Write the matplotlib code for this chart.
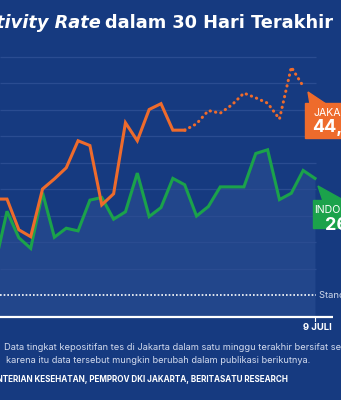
import numpy as np
import matplotlib.pyplot as plt
from matplotlib.patches import Polygon, Rectangle

# day index inside the 30 day window (0 = 10 Juni, 29 = 9 Juli)
jakarta_days = np.arange(2, 29)
jakarta = np.array([23.1, 23.1, 17.3, 16.0, 25.0, 26.9, 29.0, 34.1, 33.2, 22.0,
                    24.1, 37.5, 34.1, 40.0, 41.1, 36.1, 36.1, 37.3, 39.8, 39.3,
                    40.9, 43.1, 42.2, 41.2, 38.2, 48.0, 44.4])
provisional_from = 18   # Jakarta data from here on is provisional (dotted)

indonesia_days = np.arange(2, 30)
indonesia = np.array([10.8, 20.8, 15.8, 13.8, 24.3, 15.9, 17.6, 17.1, 22.9, 23.4,
                      19.3, 20.7, 28.0, 19.8, 21.5, 27.0, 25.8, 19.9, 21.7, 25.4,
                      25.4, 25.4, 31.7, 32.4, 23.0, 24.2, 28.5, 27.0])

grid_values = [10, 15, 20, 25, 30, 35, 40, 45, 50]
who_standard = 5
base_value = 0.9
last_day = 29
last_day_label = '9 JULI'
jakarta_label = ['JAKARTA', '44,4%']
indonesia_label = ['INDONESIA', '26,9%']

BG = '#163a80'
FILL = '#22468b'
ORANGE = '#ee6b2c'
GREEN = '#1ba24b'
W, H = 341, 400

# pixel scale of the chart (day 3 sits at x=7 px, 5 % sits at y=295 px)
X0, DX = 7.0, 11.846
Y5, DY = 295.0, 5.3

plt.rcParams['font.family'] = ['Inter', 'DejaVu Sans']

fig = plt.figure(figsize=(W / 100, H / 100), dpi=100)
fig.patch.set_facecolor(BG)
ax = fig.add_axes([0, 0, 1, 1])
ax.set_facecolor(BG)
ax.set_xlim(3 - X0 / DX, 3 + (W - X0) / DX)
ax.set_ylim(5 - (H - Y5) / DY, 5 + Y5 / DY)
ax.axis('off')


def fx(px):
    return px / W


def fy(py):
    return 1 - py / H


grid_end = last_day + 0.1
ax.hlines(grid_values, ax.get_xlim()[0], grid_end, color='#2a4c91', lw=0.9, zorder=1)

# light area under the Indonesia line
ax.fill_between(indonesia_days, indonesia, base_value, color=FILL, lw=0, zorder=0)

# WHO standard
ax.hlines(who_standard, ax.get_xlim()[0], grid_end, color='white', lw=1.2,
          linestyle=(0, (1, 1.2)), zorder=2)
ax.text(grid_end + 0.2, who_standard, 'Standar WHO', color='#cfd8ea', fontsize=6.8,
        va='center', ha='left')

# lines
ax.plot(indonesia_days, indonesia, color=GREEN, lw=2.2, solid_joinstyle='miter', zorder=3)
solid = jakarta_days <= provisional_from
ax.plot(jakarta_days[solid], jakarta[solid], color=ORANGE, lw=2.2,
        solid_joinstyle='miter', zorder=4)
dotted = jakarta_days >= provisional_from
ax.plot(jakarta_days[dotted], jakarta[dotted], color=ORANGE, lw=2.2,
        linestyle=(0, (0.1, 1.7)), dash_capstyle='round', zorder=4)

# base line and last date
ax.plot([0, fx(333)], [fy(316.7)] * 2, color='white', lw=1.6,
        transform=ax.transAxes, solid_capstyle='butt', zorder=5)
ax.plot([fx(315)] * 2, [fy(316.7), fy(320.5)], color='white', lw=0.8,
        transform=ax.transAxes, zorder=5)
fig.text(fx(332), fy(328), last_day_label, color='white', fontsize=6.8,
         fontweight='bold', ha='right', va='center')


# callout boxes
def callout(tip, base, box, color, labels, x_name, x_value):
    ax.add_patch(Polygon([tip, base[0], base[1]], closed=True, color=color,
                         transform=ax.transAxes, zorder=6))
    x0, y0, x1, y1 = box
    ax.add_patch(Rectangle((fx(x0), fy(y1)), fx(x1) - fx(x0), fy(y0) - fy(y1),
                           color=color, transform=ax.transAxes, zorder=6))
    fig.text(fx(x_name), fy(y0 + 10), labels[0], color='white', fontsize=7.6,
             ha='left', va='center', zorder=7)
    fig.text(fx(x_value), fy(y0 + 25), labels[1], color='white', fontsize=13,
             fontweight='bold', ha='left', va='center', zorder=7)


callout((fx(308), fy(92)), [(fx(310), fy(104)), (fx(326), fy(104))],
        (305, 103, 370, 138), ORANGE, jakarta_label, 313, 312.5)
callout((fx(318), fy(186)), [(fx(323), fy(201)), (fx(345), fy(201))],
        (312.5, 200, 372, 228), GREEN, indonesia_label, 314, 325)

# title: bold part right aligned, italic part put in front of it
t = fig.text(fx(333), fy(28.3), 'dalam 30 Hari Terakhir', color='white', fontsize=12.8,
             fontweight='bold', family='DejaVu Sans', ha='right', va='baseline')
fig.canvas.draw()
bb = t.get_window_extent()
fig.text(bb.x0 / W - 0.013, fy(28.3), 'Positivity Rate', color='white', fontsize=12.8,
         fontweight='bold', fontstyle='italic', family='DejaVu Sans',
         ha='right', va='baseline')

# notes
fig.text(fx(3.5), fy(347), 'Data tingkat kepositifan tes di Jakarta dalam satu minggu terakhir bersifat sementara,',
         color='#d3dbee', fontsize=6.7, ha='left', va='center')
fig.text(fx(6), fy(360.5), 'karena itu data tersebut mungkin berubah dalam publikasi berikutnya.',
         color='#d3dbee', fontsize=6.65, ha='left', va='center')
fig.text(fx(288), fy(380), 'SUMBER: KEMENTERIAN KESEHATAN, PEMPROV DKI JAKARTA, BERITASATU RESEARCH',
         color='white', fontsize=5.85, fontweight='bold', ha='right', va='center')

fig.savefig('out.png', dpi=100, facecolor=BG)
